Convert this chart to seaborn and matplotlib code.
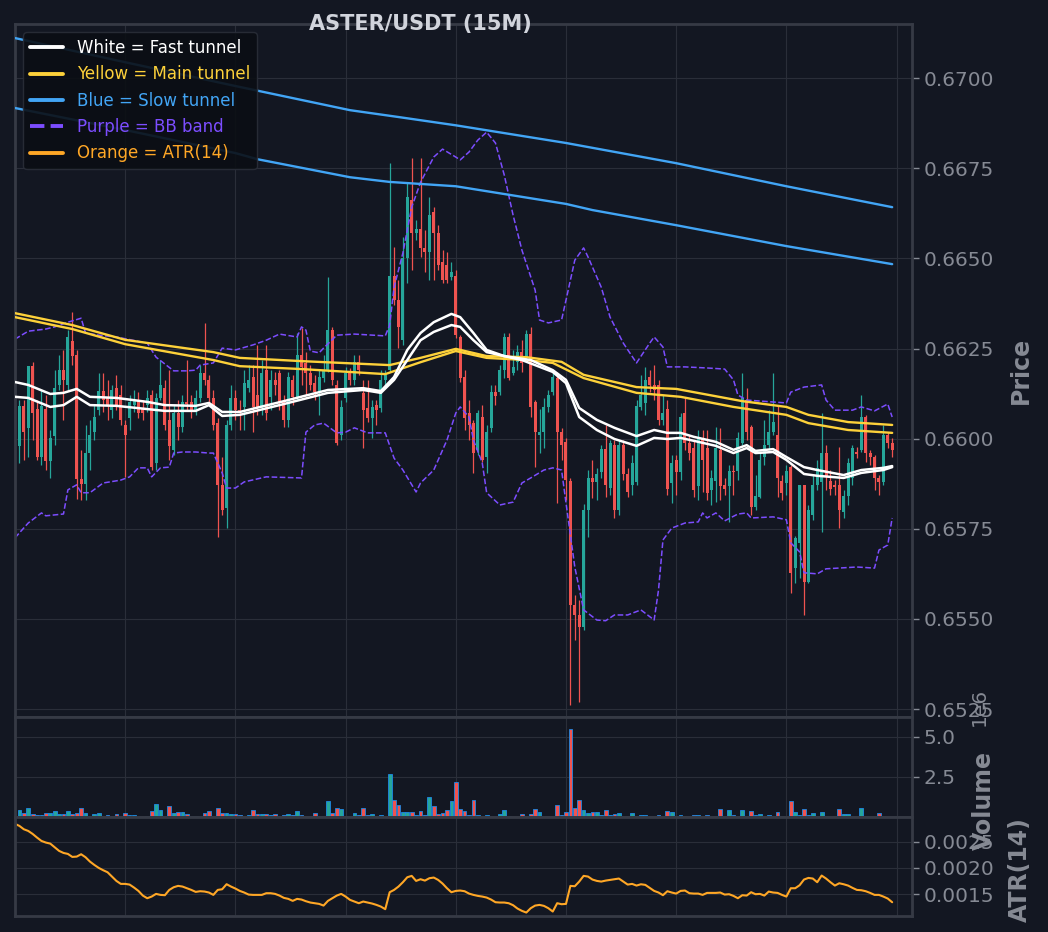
import numpy as np
import matplotlib
matplotlib.use("Agg")
import matplotlib.pyplot as plt
from matplotlib.lines import Line2D
from matplotlib.ticker import FormatStrFormatter, FuncFormatter
import seaborn as sns

# values (candle index 1..199)
title = "ASTER/USDT (15M)"
candle_x = list(range(1, 200))

open_ = [0.65980, 0.66091, 0.66030, 0.66201, 0.66082, 0.65949, 0.66082, 0.65938, 0.66007, 0.66149,
         0.66190, 0.66149, 0.66271, 0.66232, 0.65888, 0.65874, 0.65960, 0.66018, 0.66079, 0.66132,
         0.66113, 0.66079, 0.66140, 0.66121, 0.66038, 0.66057, 0.66093, 0.66107, 0.66085, 0.66093,
         0.66121, 0.65933, 0.66113, 0.66140, 0.66052, 0.65969, 0.66071, 0.66032, 0.66102, 0.66102,
         0.66079, 0.66113, 0.66182, 0.66163, 0.66113, 0.66043, 0.65872, 0.65808, 0.66038, 0.66113,
         0.66079, 0.66088, 0.66140, 0.66171, 0.66121, 0.66088, 0.66190, 0.66116, 0.66163, 0.66182,
         0.66102, 0.66052, 0.66163, 0.66116, 0.66232, 0.66210, 0.66182, 0.66154, 0.66129, 0.66168,
         0.66190, 0.66301, 0.66149, 0.66010, 0.66113, 0.66182, 0.66163, 0.66212, 0.66127, 0.66085,
         0.66057, 0.66093, 0.66085, 0.66163, 0.66190, 0.66451, 0.66384, 0.66273, 0.66501, 0.66662,
         0.66570, 0.66581, 0.66528, 0.66517, 0.66628, 0.66570, 0.66490, 0.66481, 0.66448, 0.66451,
         0.66282, 0.66171, 0.66071, 0.66043, 0.65969, 0.66060, 0.65949, 0.66030, 0.66129, 0.66129,
         0.66190, 0.66282, 0.66182, 0.66212, 0.66240, 0.66224, 0.66290, 0.66102, 0.66010, 0.66018,
         0.66088, 0.66129, 0.66168, 0.66018, 0.65991, 0.65883, 0.65539, 0.65511, 0.65478, 0.65802,
         0.65891, 0.65880, 0.65908, 0.65971, 0.65863, 0.65982, 0.65802, 0.65982, 0.65902, 0.65872,
         0.65880, 0.66088, 0.66099, 0.66171, 0.66149, 0.66149, 0.66052, 0.66082, 0.65877, 0.65941,
         0.65908, 0.66071, 0.65988, 0.65974, 0.65869, 0.66002, 0.65974, 0.65858, 0.65883, 0.65969,
         0.65872, 0.65869, 0.65910, 0.65910, 0.65988, 0.66107, 0.66032, 0.65811, 0.65838, 0.65949,
         0.65982, 0.66018, 0.66010, 0.65883, 0.65877, 0.65921, 0.65641, 0.65711, 0.65872, 0.65603,
         0.65788, 0.65872, 0.65880, 0.65960, 0.65883, 0.65872, 0.65872, 0.65797, 0.65841, 0.65891,
         0.65963, 0.65969, 0.66060, 0.65960, 0.65949, 0.65891, 0.65880, 0.66010, 0.65988]

high = [0.66107, 0.66107, 0.66201, 0.66212, 0.66107, 0.66135, 0.66121, 0.66024, 0.66190, 0.66232,
        0.66246, 0.66301, 0.66351, 0.66246, 0.65969, 0.66038, 0.66052, 0.66093, 0.66182, 0.66182,
        0.66163, 0.66149, 0.66176, 0.66149, 0.66052, 0.66121, 0.66135, 0.66129, 0.66107, 0.66135,
        0.66135, 0.66127, 0.66218, 0.66163, 0.66190, 0.66093, 0.66107, 0.66121, 0.66218, 0.66121,
        0.66135, 0.66204, 0.66321, 0.66176, 0.66135, 0.66057, 0.65949, 0.66052, 0.66149, 0.66135,
        0.66107, 0.66190, 0.66204, 0.66204, 0.66260, 0.66218, 0.66260, 0.66190, 0.66185, 0.66190,
        0.66121, 0.66185, 0.66176, 0.66293, 0.66307, 0.66240, 0.66204, 0.66176, 0.66190, 0.66232,
        0.66448, 0.66310, 0.66163, 0.66107, 0.66199, 0.66196, 0.66232, 0.66232, 0.66163, 0.66163,
        0.66107, 0.66107, 0.66190, 0.66190, 0.66764, 0.66531, 0.66440, 0.66559, 0.66709, 0.66778,
        0.66606, 0.66778, 0.66578, 0.66670, 0.66642, 0.66592, 0.66523, 0.66517, 0.66490, 0.66468,
        0.66287, 0.66190, 0.66107, 0.66052, 0.66079, 0.66093, 0.66038, 0.66149, 0.66149, 0.66204,
        0.66293, 0.66293, 0.66246, 0.66260, 0.66273, 0.66301, 0.66310, 0.66107, 0.66082, 0.66113,
        0.66135, 0.66190, 0.66185, 0.66030, 0.66002, 0.65891, 0.65567, 0.65553, 0.65819, 0.65913,
        0.65941, 0.65919, 0.65982, 0.66038, 0.65996, 0.65996, 0.65996, 0.65996, 0.65919, 0.65955,
        0.66107, 0.66176, 0.66199, 0.66190, 0.66204, 0.66163, 0.66121, 0.66107, 0.65955, 0.65955,
        0.66071, 0.66116, 0.66010, 0.65996, 0.66024, 0.66024, 0.66024, 0.65913, 0.66032, 0.66030,
        0.65891, 0.65927, 0.65927, 0.66018, 0.66182, 0.66140, 0.66038, 0.65899, 0.65963, 0.66052,
        0.66079, 0.66182, 0.66093, 0.65899, 0.65927, 0.65927, 0.65730, 0.65872, 0.65872, 0.65816,
        0.65899, 0.65941, 0.66071, 0.65982, 0.65913, 0.65885, 0.65977, 0.65858, 0.65946, 0.65982,
        0.65977, 0.66121, 0.66066, 0.65969, 0.65955, 0.65899, 0.66038, 0.66018, 0.66002]

low = [0.65933, 0.65941, 0.65949, 0.65996, 0.65941, 0.65927, 0.65913, 0.65891, 0.65982, 0.66135,
       0.66052, 0.66135, 0.66204, 0.65833, 0.65830, 0.65830, 0.65913, 0.65996, 0.66066, 0.66074,
       0.66052, 0.66057, 0.66079, 0.66038, 0.65894, 0.66024, 0.66074, 0.66057, 0.66052, 0.66074,
       0.65913, 0.65913, 0.66107, 0.66024, 0.65941, 0.65955, 0.65996, 0.66018, 0.66079, 0.66057,
       0.66066, 0.66102, 0.66149, 0.66093, 0.66024, 0.65727, 0.65788, 0.65752, 0.66024, 0.66052,
       0.66024, 0.66024, 0.66129, 0.66018, 0.66066, 0.66066, 0.66052, 0.66079, 0.66121, 0.66079,
       0.66032, 0.66032, 0.66093, 0.66107, 0.66149, 0.66121, 0.66135, 0.66107, 0.66066, 0.66157,
       0.66185, 0.66149, 0.65982, 0.65996, 0.66102, 0.66149, 0.66149, 0.66176, 0.65974, 0.66046,
       0.66002, 0.66038, 0.66074, 0.66149, 0.66185, 0.66371, 0.66251, 0.66260, 0.66431, 0.66468,
       0.66551, 0.66504, 0.66462, 0.66440, 0.66440, 0.66468, 0.66431, 0.66431, 0.66440, 0.66279,
       0.66157, 0.66024, 0.65996, 0.65905, 0.65955, 0.65935, 0.65905, 0.66018, 0.66093, 0.66121,
       0.66168, 0.66163, 0.66176, 0.66190, 0.66185, 0.66212, 0.66060, 0.65921, 0.65960, 0.65974,
       0.66074, 0.66121, 0.65822, 0.65941, 0.65830, 0.65262, 0.65442, 0.65270, 0.65470, 0.65727,
       0.65835, 0.65830, 0.65891, 0.65838, 0.65844, 0.65780, 0.65788, 0.65885, 0.65838, 0.65844,
       0.65872, 0.66079, 0.66066, 0.66129, 0.66107, 0.66038, 0.66038, 0.65844, 0.65822, 0.65844,
       0.65885, 0.65969, 0.65941, 0.65838, 0.65830, 0.65852, 0.65830, 0.65816, 0.65824, 0.65830,
       0.65844, 0.65769, 0.65844, 0.65885, 0.65982, 0.65996, 0.65788, 0.65802, 0.65835, 0.65927,
       0.65969, 0.66010, 0.65838, 0.65830, 0.65844, 0.65572, 0.65600, 0.65614, 0.65511, 0.65600,
       0.65775, 0.65858, 0.65741, 0.65858, 0.65844, 0.65844, 0.65752, 0.65780, 0.65816, 0.65872,
       0.65946, 0.65963, 0.65935, 0.65927, 0.65858, 0.65844, 0.65872, 0.65974, 0.65949]

close = [0.66091, 0.66018, 0.66201, 0.66071, 0.65949, 0.66091, 0.65938, 0.66002, 0.66140, 0.66190,
         0.66163, 0.66282, 0.66229, 0.65888, 0.65874, 0.65960, 0.66010, 0.66060, 0.66132, 0.66107,
         0.66093, 0.66135, 0.66093, 0.66052, 0.66010, 0.66102, 0.66107, 0.66071, 0.66071, 0.66113,
         0.65921, 0.66113, 0.66149, 0.66038, 0.65980, 0.66071, 0.66032, 0.66102, 0.66096, 0.66074,
         0.66113, 0.66182, 0.66163, 0.66113, 0.66038, 0.65872, 0.65802, 0.66038, 0.66113, 0.66079,
         0.66074, 0.66154, 0.66163, 0.66088, 0.66085, 0.66182, 0.66071, 0.66163, 0.66149, 0.66099,
         0.66052, 0.66171, 0.66116, 0.66232, 0.66199, 0.66182, 0.66149, 0.66129, 0.66171, 0.66190,
         0.66301, 0.66163, 0.65988, 0.66088, 0.66182, 0.66163, 0.66212, 0.66190, 0.66079, 0.66057,
         0.66088, 0.66079, 0.66163, 0.66176, 0.66451, 0.66384, 0.66310, 0.66501, 0.66670, 0.66570,
         0.66581, 0.66528, 0.66517, 0.66620, 0.66570, 0.66481, 0.66440, 0.66440, 0.66462, 0.66287,
         0.66168, 0.66057, 0.66038, 0.65960, 0.66071, 0.65941, 0.66018, 0.66129, 0.66118, 0.66190,
         0.66282, 0.66168, 0.66199, 0.66240, 0.66210, 0.66290, 0.66088, 0.66018, 0.66018, 0.66088,
         0.66121, 0.66171, 0.66018, 0.65982, 0.65885, 0.65539, 0.65511, 0.65478, 0.65802, 0.65891,
         0.65880, 0.65902, 0.65971, 0.65872, 0.65988, 0.65802, 0.65982, 0.65902, 0.65852, 0.65933,
         0.66091, 0.66121, 0.66163, 0.66149, 0.66135, 0.66052, 0.66071, 0.65860, 0.65933, 0.65908,
         0.66060, 0.65988, 0.65960, 0.65858, 0.66002, 0.65941, 0.65849, 0.65891, 0.65974, 0.65869,
         0.65860, 0.65910, 0.65908, 0.66002, 0.66113, 0.66018, 0.65811, 0.65841, 0.65941, 0.65982,
         0.66018, 0.66046, 0.65891, 0.65849, 0.65910, 0.65628, 0.65725, 0.65872, 0.65603, 0.65802,
         0.65872, 0.65919, 0.65960, 0.65894, 0.65860, 0.65866, 0.65802, 0.65841, 0.65933, 0.65974,
         0.65958, 0.66060, 0.65960, 0.65949, 0.65891, 0.65880, 0.66010, 0.65988, 0.65969]

# volume in millions
volume_m = [0.41, 0.23, 0.58, 0.19, 0.12, 0.12, 0.27, 0.27, 0.35, 0.16,
            0.21, 0.35, 0.21, 0.27, 0.58, 0.27, 0.08, 0.21, 0.27, 0.08,
            0.14, 0.04, 0.16, 0.02, 0.27, 0.14, 0.14, 0.02, 0.02, 0.08,
            0.39, 0.78, 0.41, 0.08, 0.70, 0.27, 0.33, 0.31, 0.21, 0.04,
            0.08, 0.02, 0.27, 0.39, 0.04, 0.58, 0.27, 0.27, 0.21, 0.21,
            0.12, 0.08, 0.14, 0.45, 0.21, 0.21, 0.21, 0.12, 0.21, 0.08,
            0.12, 0.21, 0.12, 0.35, 0.14, 0.08, 0.08, 0.27, 0.08, 0.04,
            0.97, 0.27, 0.58, 0.51, 0.08, 0.02, 0.27, 0.14, 0.58, 0.12,
            0.21, 0.04, 0.14, 0.02, 2.67, 1.07, 0.76, 0.33, 0.33, 0.33,
            0.14, 0.39, 0.14, 1.26, 0.70, 0.21, 0.27, 0.45, 1.01, 2.18,
            0.51, 0.39, 0.12, 1.07, 0.14, 0.04, 0.14, 0.08, 0.04, 0.21,
            0.45, 0.04, 0.02, 0.02, 0.21, 0.08, 0.21, 0.51, 0.33, 0.08,
            0.04, 0.08, 0.76, 0.14, 0.33, 5.50, 0.58, 1.07, 0.45, 0.27,
            0.33, 0.33, 0.14, 0.41, 0.14, 0.21, 0.27, 0.04, 0.04, 0.27,
            0.08, 0.14, 0.14, 0.08, 0.08, 0.14, 0.02, 0.39, 0.33, 0.08,
            0.14, 0.08, 0.08, 0.14, 0.14, 0.08, 0.14, 0.02, 0.08, 0.51,
            0.02, 0.45, 0.14, 0.04, 0.45, 0.04, 0.39, 0.14, 0.21, 0.04,
            0.14, 0.08, 0.33, 0.08, 0.02, 1.01, 0.33, 0.14, 0.51, 0.14,
            0.27, 0.08, 0.33, 0.04, 0.02, 0.08, 0.51, 0.21, 0.21, 0.08,
            0.08, 0.58, 0.08, 0.02, 0.02, 0.27, 0.08, 0.02, 0.02]

atr_x = list(range(0, 200))
atr = [0.002838,
       0.002800, 0.002736, 0.002704, 0.002647, 0.002577, 0.002513, 0.002482, 0.002462, 0.002392, 0.002323,
       0.002284, 0.002265, 0.002208, 0.002214, 0.002259, 0.002202, 0.002119, 0.002055, 0.001998, 0.001954,
       0.001915, 0.001833, 0.001750, 0.001693, 0.001693, 0.001680, 0.001623, 0.001559, 0.001470, 0.001419,
       0.001451, 0.001502, 0.001483, 0.001477, 0.001578, 0.001629, 0.001655, 0.001642, 0.001610, 0.001578,
       0.001540, 0.001553, 0.001547, 0.001528, 0.001483, 0.001578, 0.001591, 0.001687, 0.001642, 0.001604,
       0.001559, 0.001528, 0.001489, 0.001483, 0.001483, 0.001483, 0.001515, 0.001515, 0.001502, 0.001470,
       0.001426, 0.001407, 0.001369, 0.001407, 0.001394, 0.001362, 0.001337, 0.001324, 0.001311, 0.001279,
       0.001369, 0.001419, 0.001470, 0.001502, 0.001451, 0.001388, 0.001356, 0.001324, 0.001356, 0.001337,
       0.001318, 0.001292, 0.001260, 0.001210, 0.001534, 0.001578, 0.001642, 0.001725, 0.001820, 0.001846,
       0.001750, 0.001782, 0.001756, 0.001801, 0.001814, 0.001769, 0.001699, 0.001610, 0.001534, 0.001559,
       0.001566, 0.001553, 0.001508, 0.001483, 0.001464, 0.001451, 0.001432, 0.001394, 0.001343, 0.001337,
       0.001337, 0.001324, 0.001286, 0.001222, 0.001178, 0.001146, 0.001229, 0.001279, 0.001292, 0.001273,
       0.001229, 0.001165, 0.001324, 0.001305, 0.001311, 0.001655, 0.001648, 0.001737, 0.001846, 0.001833,
       0.001776, 0.001750, 0.001737, 0.001756, 0.001769, 0.001782, 0.001795, 0.001737, 0.001680, 0.001693,
       0.001661, 0.001686, 0.001674, 0.001617, 0.001559, 0.001528, 0.001477, 0.001553, 0.001528, 0.001508,
       0.001559, 0.001566, 0.001515, 0.001508, 0.001508, 0.001483, 0.001521, 0.001521, 0.001521, 0.001528,
       0.001489, 0.001496, 0.001464, 0.001419, 0.001477, 0.001470, 0.001534, 0.001496, 0.001502, 0.001470,
       0.001546, 0.001528, 0.001521, 0.001483, 0.001451, 0.001610, 0.001610, 0.001667, 0.001776, 0.001807,
       0.001795, 0.001725, 0.001852, 0.001795, 0.001725, 0.001661, 0.001705, 0.001686, 0.001661, 0.001617,
       0.001578, 0.001572, 0.001553, 0.001521, 0.001483, 0.001483, 0.001451, 0.001413, 0.001343]

# indicator lines, read at knots along the candle index
fast_hi_x = [0, 3, 8, 11, 14, 17, 23, 30, 34, 41, 44, 47, 51, 61, 71, 79, 83, 86, 89, 92, 95, 99, 101,
             104, 107, 111, 117, 122, 125, 128, 132, 136, 141, 145, 148, 151, 154, 159, 163, 166, 168,
             172, 175, 179, 182, 188, 192, 197, 199]
fast_hi = [0.66157, 0.66149, 0.66124, 0.66127, 0.66138, 0.66116, 0.66113, 0.66102, 0.66093, 0.66091,
           0.66099, 0.66074, 0.66074, 0.66104, 0.66135, 0.66140, 0.66132, 0.66171, 0.66246, 0.66293,
           0.66323, 0.66346, 0.66337, 0.66293, 0.66246, 0.66229, 0.66218, 0.66190, 0.66163, 0.66085,
           0.66052, 0.66030, 0.66007, 0.66024, 0.66016, 0.66016, 0.66005, 0.65991, 0.65969, 0.65982,
           0.65966, 0.65971, 0.65949, 0.65921, 0.65913, 0.65899, 0.65913, 0.65919, 0.65924]
fast_lo_x = [0, 3, 8, 11, 14, 17, 23, 30, 34, 41, 44, 47, 51, 61, 71, 79, 83, 86, 89, 92, 95, 99, 101,
             104, 107, 115, 122, 125, 128, 132, 136, 141, 145, 148, 151, 154, 159, 163, 166, 168, 172,
             175, 179, 182, 188, 192, 197, 199]
fast_lo = [0.66116, 0.66113, 0.66088, 0.66093, 0.66116, 0.66093, 0.66091, 0.66082, 0.66077, 0.66077,
           0.66093, 0.66063, 0.66066, 0.66096, 0.66127, 0.66135, 0.66127, 0.66163, 0.66218, 0.66273,
           0.66296, 0.66315, 0.66310, 0.66273, 0.66240, 0.66218, 0.66185, 0.66154, 0.66060, 0.66024,
           0.65999, 0.65980, 0.66002, 0.65999, 0.66002, 0.65994, 0.65980, 0.65960, 0.65974, 0.65960,
           0.65963, 0.65941, 0.65902, 0.65897, 0.65891, 0.65905, 0.65913, 0.65921]

main_hi_x = [0, 13, 25, 45, 51, 65, 85, 92, 100, 107, 116, 124, 129, 141, 150, 165, 175, 180, 189, 199]
main_hi = [0.66348, 0.66315, 0.66274, 0.66240, 0.66224, 0.66215, 0.66204, 0.66224, 0.66249, 0.66229,
           0.66226, 0.66213, 0.66177, 0.66143, 0.66138, 0.66104, 0.66088, 0.66066, 0.66046, 0.66038]
main_lo_x = [0, 13, 25, 45, 51, 65, 84, 92, 100, 107, 116, 122, 129, 141, 151, 163, 175, 180, 189, 199]
main_lo = [0.66337, 0.66304, 0.66262, 0.66218, 0.66201, 0.66193, 0.66179, 0.66212, 0.66243, 0.66224,
           0.66218, 0.66210, 0.66168, 0.66127, 0.66116, 0.66088, 0.66066, 0.66043, 0.66024, 0.66016]

slow_hi_x = [0, 25, 50, 76, 87, 100, 125, 150, 175, 199]
slow_hi = [0.67111, 0.67044, 0.66978, 0.66911, 0.66892, 0.66869, 0.66820, 0.66764, 0.66700, 0.66642]
slow_lo_x = [0, 25, 50, 55, 76, 85, 100, 125, 131, 150, 175, 199]
slow_lo = [0.66917, 0.66856, 0.66792, 0.66775, 0.66725, 0.66712, 0.66700, 0.66651, 0.66634, 0.66592,
           0.66534, 0.66484]

bb_up_x = [0, 3, 7, 9, 12, 15, 16, 19, 23, 30, 32, 36, 39, 41, 42, 45, 47, 50, 54, 57, 60, 64, 65, 66,
           67, 69, 70, 73, 77, 84, 85, 86, 88, 90, 92, 95, 97, 100, 101, 103, 105, 107, 109, 111, 113,
           115, 118, 119, 121, 124, 125, 127, 129, 130, 133, 135, 138, 141, 144, 145, 147, 148, 152,
           157, 161, 163, 164, 166, 175, 176, 179, 183, 184, 186, 190, 192, 195, 198, 199]
bb_up = [0.66276, 0.66298, 0.66304, 0.66310, 0.66323, 0.66334, 0.66293, 0.66287, 0.66282, 0.66265,
         0.66226, 0.66188, 0.66188, 0.66190, 0.66204, 0.66210, 0.66251, 0.66246, 0.66260, 0.66273,
         0.66290, 0.66282, 0.66310, 0.66301, 0.66243, 0.66238, 0.66251, 0.66287, 0.66290, 0.66285,
         0.66315, 0.66420, 0.66515, 0.66642, 0.66711, 0.66781, 0.66803, 0.66781, 0.66773, 0.66795,
         0.66828, 0.66850, 0.66820, 0.66731, 0.66620, 0.66523, 0.66412, 0.66329, 0.66321, 0.66329,
         0.66384, 0.66495, 0.66529, 0.66504, 0.66420, 0.66337, 0.66265, 0.66210, 0.66265, 0.66282,
         0.66254, 0.66199, 0.66199, 0.66196, 0.66193, 0.66163, 0.66121, 0.66107, 0.66099, 0.66129,
         0.66143, 0.66149, 0.66107, 0.66079, 0.66079, 0.66088, 0.66077, 0.66096, 0.66060]
bb_lo_x = [0, 3, 6, 7, 11, 12, 14, 15, 17, 20, 24, 26, 28, 30, 31, 33, 35, 36, 38, 41, 44, 45, 47, 48,
           50, 52, 57, 65, 66, 68, 70, 73, 75, 77, 80, 84, 86, 88, 91, 92, 95, 98, 100, 101, 103, 104,
           106, 107, 110, 113, 115, 117, 120, 122, 124, 125, 127, 129, 132, 134, 136, 139, 142, 145,
           146, 147, 149, 152, 155, 156, 157, 159, 161, 164, 166, 167, 172, 175, 176, 178, 179, 182,
           184, 191, 195, 196, 198, 199]
bb_lo = [0.65725, 0.65766, 0.65794, 0.65786, 0.65791, 0.65858, 0.65872, 0.65850, 0.65850, 0.65877,
         0.65885, 0.65894, 0.65919, 0.65919, 0.65894, 0.65919, 0.65921, 0.65960, 0.65963, 0.65963,
         0.65960, 0.65960, 0.65905, 0.65863, 0.65863, 0.65880, 0.65894, 0.65891, 0.66018, 0.66038,
         0.66043, 0.66016, 0.66018, 0.66030, 0.66016, 0.66016, 0.65946, 0.65913, 0.65852, 0.65877,
         0.65913, 0.65996, 0.66071, 0.66088, 0.66060, 0.65996, 0.65933, 0.65850, 0.65816, 0.65824,
         0.65877, 0.65891, 0.65913, 0.65919, 0.65913, 0.65822, 0.65644, 0.65525, 0.65497, 0.65495,
         0.65511, 0.65511, 0.65525, 0.65497, 0.65581, 0.65719, 0.65752, 0.65766, 0.65769, 0.65794,
         0.65780, 0.65794, 0.65772, 0.65791, 0.65794, 0.65780, 0.65783, 0.65775, 0.65711, 0.65686,
         0.65628, 0.65625, 0.65639, 0.65644, 0.65641, 0.65691, 0.65705, 0.65780]

price_ticks = [0.6525, 0.6550, 0.6575, 0.6600, 0.6625, 0.6650, 0.6675, 0.6700]
vol_ticks = [2.5e6, 5.0e6]
atr_ticks = [0.0015, 0.0020, 0.0025]
legend_labels = ["White = Fast tunnel", "Yellow = Main tunnel", "Blue = Slow tunnel",
                 "Purple = BB band", "Orange = ATR(14)"]

BG = "#131722"
GRID = "#2a2e39"
SPINE = "#363a45"
TICK = "#868a94"
GREEN = "#26a69a"
RED = "#ef5350"
WHITE = "#ffffff"
YELLOW = "#fdd13a"
BLUE = "#42a5f5"
PURPLE = "#7c4dff"
ORANGE = "#ffa726"

sns.set_theme(style="darkgrid", rc={
    "figure.facecolor": BG,
    "axes.facecolor": BG,
    "axes.edgecolor": SPINE,
    "axes.linewidth": 2.0,
    "grid.color": GRID,
    "grid.linewidth": 0.8,
    "text.color": TICK,
    "axes.labelcolor": TICK,
    "xtick.color": TICK,
    "ytick.color": TICK,
})
plt.rcParams["font.family"] = ["DejaVu Sans"]

fig = plt.figure(figsize=(10.48, 9.32), dpi=100)
W, H = 1048, 932


def box(left, top, right, bottom):
    return [left / W, 1 - bottom / H, (right - left) / W, (bottom - top) / H]


ax = fig.add_axes(box(15, 24, 912, 717))
ax_vol = fig.add_axes(box(15, 717, 912, 817), sharex=ax)
ax_atr = fig.add_axes(box(15, 817, 912, 916), sharex=ax)

o, h, l, c = (np.array(v) for v in (open_, high, low, close))
cols = np.where(c >= o, GREEN, RED)

# candles
ax.vlines(candle_x, l, h, colors=cols, linewidth=0.9, zorder=2)
ax.bar(candle_x, c - o, bottom=o, width=0.68, color=cols, linewidth=0, zorder=2)

# tunnels and bands
lines = [
    (bb_up_x, bb_up, PURPLE, 1.1, "--", 2.5),
    (bb_lo_x, bb_lo, PURPLE, 1.1, "--", 2.5),
    (slow_hi_x, slow_hi, BLUE, 1.7, "-", 3),
    (slow_lo_x, slow_lo, BLUE, 1.7, "-", 3),
    (main_hi_x, main_hi, YELLOW, 1.7, "-", 3.2),
    (main_lo_x, main_lo, YELLOW, 1.7, "-", 3.2),
    (fast_hi_x, fast_hi, WHITE, 1.8, "-", 3.5),
    (fast_lo_x, fast_lo, WHITE, 1.8, "-", 3.5),
]
for xs, ys, col, lw, ls, z in lines:
    sns.lineplot(x=xs, y=ys, ax=ax, color=col, linewidth=lw, linestyle=ls,
                 legend=False, zorder=z)

# volume
ax_vol.bar(candle_x, np.array(volume_m) * 1e6, width=0.85, color=cols,
           edgecolor="#1e88e5", linewidth=0.6, zorder=2)

# ATR
sns.lineplot(x=atr_x, y=atr, ax=ax_atr, color=ORANGE, linewidth=1.5, legend=False)

ax.set_xlim(0, 203.5)
ax.set_ylim(0.65228, 0.67150)
ax_vol.set_ylim(0, 6.23e6)
ax_atr.set_ylim(0.00108, 0.00297)

ax.set_yticks(price_ticks)
ax_vol.set_yticks(vol_ticks)
ax_atr.set_yticks(atr_ticks)
ax.yaxis.set_major_formatter(FormatStrFormatter("%.4f"))
ax_atr.yaxis.set_major_formatter(FormatStrFormatter("%.4f"))
ax_vol.yaxis.set_major_formatter(FuncFormatter(lambda v, pos: f"{v / 1e6:.1f}"))

for a in (ax, ax_vol, ax_atr):
    a.set_xticks(range(0, 201, 25))
    a.tick_params(axis="x", length=0, labelbottom=False)
    a.yaxis.tick_right()
    a.yaxis.set_label_position("right")
    a.tick_params(axis="y", labelsize=14.5, length=5, width=1, colors=TICK,
                  right=True, left=False)
    a.grid(True, color=GRID, linewidth=0.8)
    a.set_xlabel("")
    for sp in a.spines.values():
        sp.set_visible(True)
        sp.set_color(SPINE)
        sp.set_linewidth(2.0)

label_kw = dict(fontsize=17, fontweight="bold", color=TICK)
ax.set_ylabel("Price", **label_kw)
ax_vol.set_ylabel("Volume", **label_kw)
ax_atr.set_ylabel("ATR(14)", **label_kw)
ax.yaxis.set_label_coords(1.108, 0.5)
ax_vol.yaxis.set_label_coords(1.067, 0.17)
ax_atr.yaxis.set_label_coords(1.107, 0.465)

# volume multiplier, drawn rotated as in the reference
fig.text(979 / W, 1 - 707 / H, "1e6", rotation=90, ha="center", va="center",
         fontsize=14.5, color=TICK)

fig.text(420 / W, 1 - 24 / H, title, ha="center", va="center",
         fontsize=15, fontweight="bold", color="#d1d4dc")

handles = [
    Line2D([], [], color=WHITE, lw=2.8),
    Line2D([], [], color=YELLOW, lw=2.8),
    Line2D([], [], color=BLUE, lw=2.8),
    Line2D([], [], color=PURPLE, lw=2.8, ls="--"),
    Line2D([], [], color=ORANGE, lw=2.8),
]
leg = ax.legend(handles, legend_labels, loc="upper left", fontsize=12,
                facecolor="#0b0e14", edgecolor=GRID, framealpha=0.9)
leg.set_zorder(10)
for txt, col in zip(leg.get_texts(), [WHITE, YELLOW, BLUE, PURPLE, ORANGE]):
    txt.set_color(col)

fig.savefig("out.png", dpi=100, facecolor=BG)
